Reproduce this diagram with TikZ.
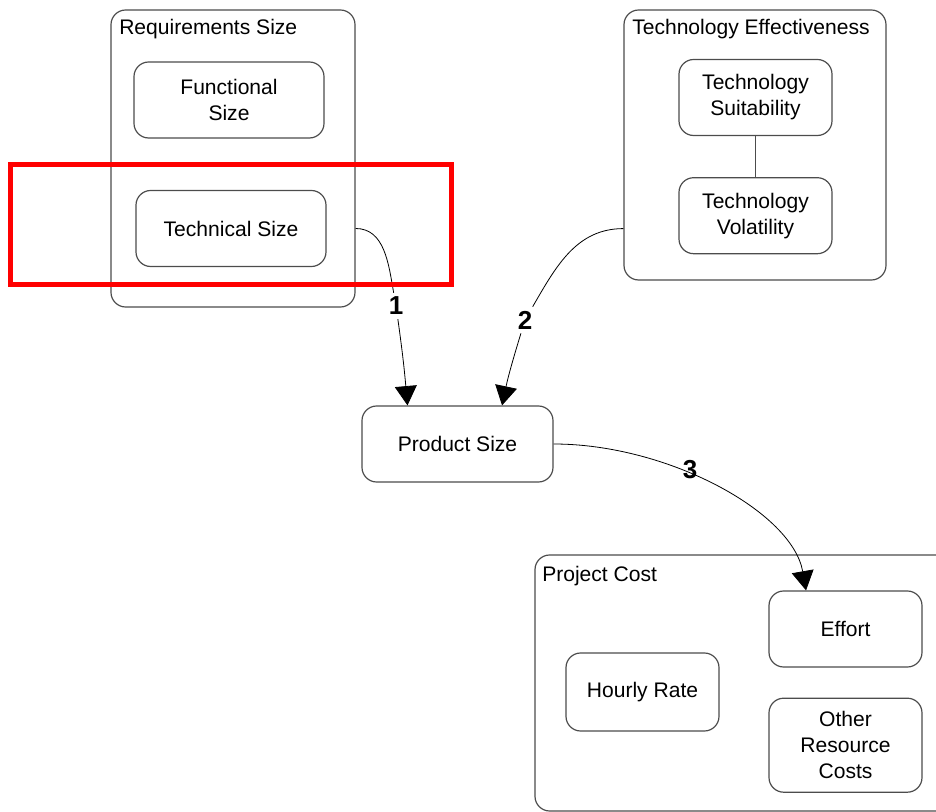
\documentclass[tikz,border=0pt]{standalone}
\usepackage{fontspec}
\setmainfont{Liberation Sans}
\usetikzlibrary{arrows.meta, positioning, calc}
\tikzset{
  blk/.style ={rectangle, rounded corners=11pt, draw=black!70, line width=0.9pt, align=center, inner sep=2pt, minimum width=114.75pt, minimum height=57pt, font=\fontsize{15.8pt}{19.5pt}\selectfont},
  grp/.style ={rectangle, rounded corners=11pt, draw=black!70, line width=0.9pt},
  ttl/.style ={anchor=base west, inner sep=0pt, font=\fontsize{15.8pt}{19.5pt}\selectfont},
  num/.style ={font=\fontsize{19.5pt}{19.5pt}\selectfont\bfseries, fill=white, inner sep=3pt},
  fl/.style  ={-{Triangle[length=14.5pt, width=16.5pt]}, line width=0.6pt},
  lnk/.style ={draw=black!70, line width=0.75pt},
  hl/.style  ={draw=red, line width=3.75pt},
}
\begin{document}
\begin{tikzpicture}[x=0.75pt, y=-0.75pt]
  \useasboundingbox (0,0) rectangle (936,812);
  \clip (0,0) rectangle (936,812);
  % groups
  \node[grp, minimum width=183pt, minimum height=222.75pt] (reqgrp) at (233,158.5) {};
  \node[grp, minimum width=196.5pt, minimum height=202.5pt] (techgrp) at (755,145) {};
  \node[grp, minimum width=318.75pt, minimum height=192pt] (costgrp) at (747.5,683) {};
  \node[ttl] (reqttl) at (119,35) {Requirements Size};
  \node[ttl] (techttl) at (632,35) {Technology Effectiveness};
  \node[ttl] (costttl) at (542,582) {Project Cost};
  % factors
  \node[blk, minimum width=142.5pt] (fsize) at (229,100) {Functional\\Size};
  \node[blk, minimum width=142.5pt] (tsize) at (231,228.5) {Technical Size};
  \node[blk] (suit) at (755.5,97.5) {Technology\\Suitability};
  \node[blk, below=30.75pt of suit] (vol) {Technology\\Volatility};
  \node[blk, minimum width=143.25pt] (psize) at (457.5,444) {Product Size};
  \node[blk] (effort) at (845.5,629) {Effort};
  \node[blk, below=22.5pt of effort, minimum height=70.5pt] (other) {Other\\Resource\\Costs};
  \node[blk, minimum height=58.5pt] (rate) at (642.5,692) {Hourly Rate};
  \draw[lnk] (suit) -- (vol);
  % influences
  \node[num] (n1) at (396,306) {1};
  \node[num] (n2) at (525,320) {2};
  \draw[fl] (reqgrp.east |- tsize) to[out=0, in=100] (n1) to[out=-82, in=95] ([xshift=-37.5pt]psize.north);
  \draw[fl] ([yshift=39pt]techgrp.south west) to[out=180, in=60] (n2) to[out=-107, in=78] ([xshift=33.4pt]psize.north);
  \draw[fl] (psize.east) to[out=0, in=100, in looseness=0.7] ([xshift=-29.6pt]effort.north);
  \node[num, fill=none] (n3) at (690,470) {3};
  % highlight
  \draw[hl] (10,165) rectangle (451,285);
\end{tikzpicture}
\end{document}
